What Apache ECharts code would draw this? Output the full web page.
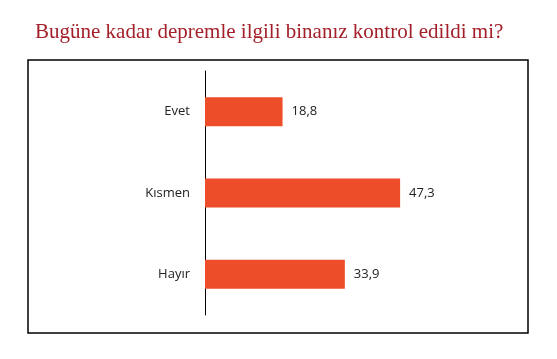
<!DOCTYPE html>
<html>
<head>
<meta charset="utf-8">
<script src="https://cdn.jsdelivr.net/npm/echarts@6/dist/echarts.min.js"></script>
<style>html,body{margin:0;padding:0;background:#fff;}#c{width:557px;height:359px;}</style>
</head>
<body>
<div id="c"></div>
<script>
const titleText = "Bugüne kadar depremle ilgili binanız kontrol edildi mi?";
const categories = ["Evet", "Kısmen", "Hayır"];
const values = [18.8, 47.3, 33.9];

const chart = echarts.init(document.getElementById('c'), null, {renderer: 'canvas'});
chart.setOption({
  animation: false,
  backgroundColor: '#ffffff',
  title: {
    text: titleText,
    left: 30,
    top: 17,
    textStyle: {fontFamily: 'Liberation Serif', fontWeight: 'normal', fontSize: 21, color: '#A3202A'}
  },
  graphic: [{
    type: 'rect',
    shape: {x: 28, y: 60, width: 500, height: 273},
    style: {fill: 'none', stroke: '#000', lineWidth: 1.5},
    silent: true
  }],
  grid: {left: 205, top: 71, height: 244, width: 330},
  xAxis: {
    type: 'value', min: 0, max: 80,
    show: false
  },
  yAxis: {
    type: 'category',
    data: categories,
    inverse: true,
    axisLine: {show: true, lineStyle: {color: '#000', width: 1}},
    axisTick: {show: false},
    axisLabel: {margin: 15, fontFamily: 'Open Sans', fontSize: 13, color: '#222'}
  },
  series: [{
    type: 'bar',
    data: values,
    barWidth: 29,
    itemStyle: {color: '#EE4D2A'},
    label: {
      show: true, position: 'right', distance: 9,
      fontFamily: 'Open Sans', fontSize: 13, color: '#222',
      formatter: p => String(p.value).replace('.', ',')
    }
  }]
});
</script>
</body>
</html>
